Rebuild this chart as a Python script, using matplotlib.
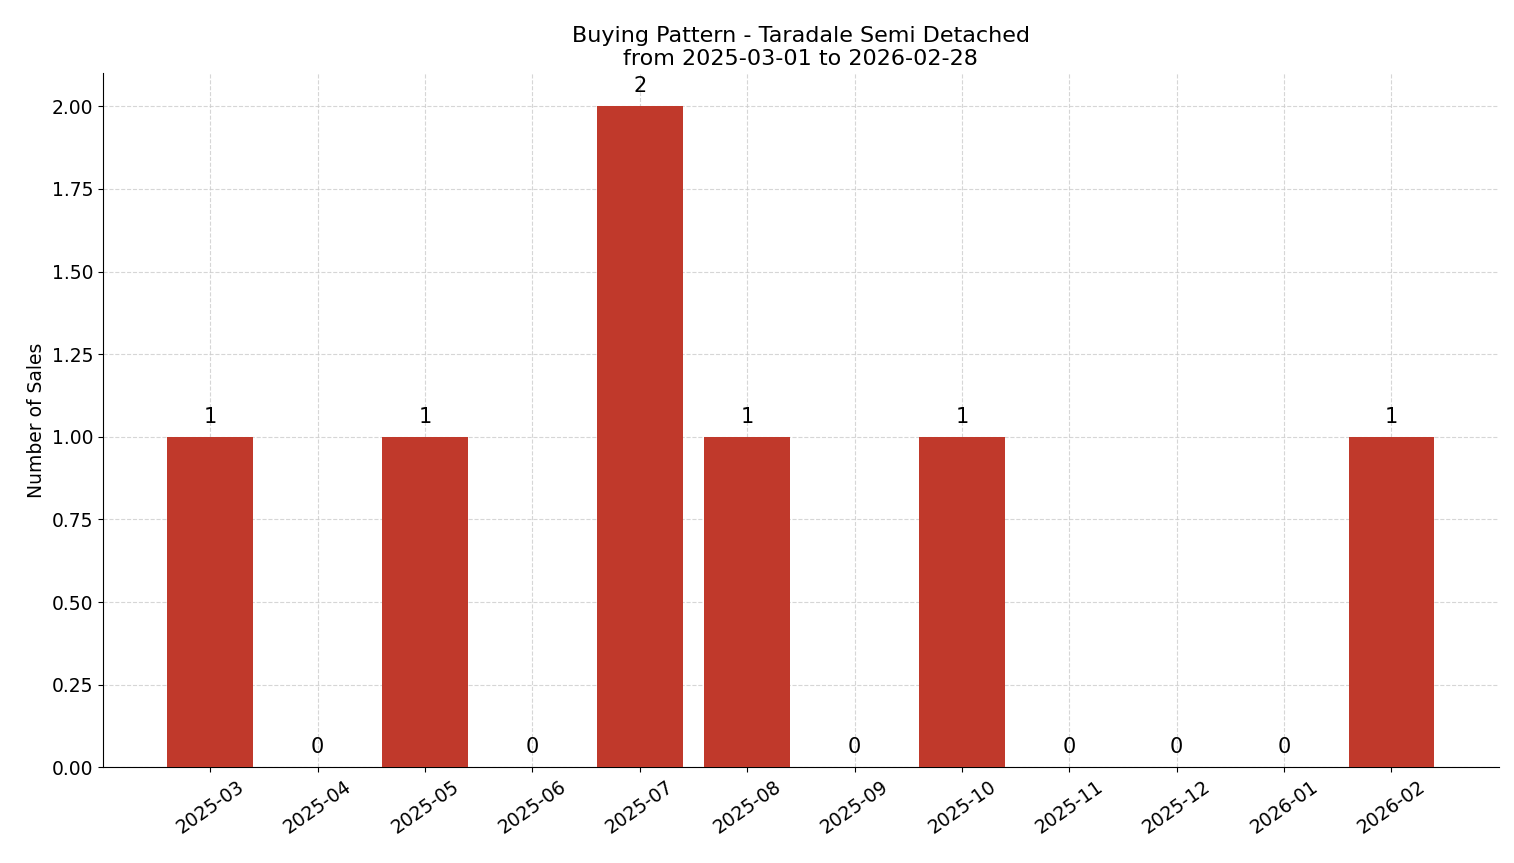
import matplotlib
matplotlib.use("Agg")
import matplotlib.pyplot as plt

months = ["2025-03","2025-04","2025-05","2025-06","2025-07","2025-08","2025-09","2025-10","2025-11","2025-12","2026-01","2026-02"]
sales = [1,0,1,0,2,1,0,1,0,0,0,1]

fig, ax = plt.subplots(figsize=(15.14, 8.63), dpi=100)
x = range(len(months))
ax.bar(x, sales, color="#c0392b", width=0.8, zorder=3)
for xi, v in zip(x, sales):
    ax.text(xi, v + 0.03, str(v), ha="center", va="bottom", fontsize=15)
ax.set_xticks(list(x))
ax.set_xticklabels(months, rotation=35, fontsize=13.5)
ax.tick_params(axis="y", labelsize=13.5)
ax.set_ylim(0, 2.1)
ax.set_xlim(-1, len(months))
yt = [0,0.25,0.5,0.75,1,1.25,1.5,1.75,2]
ax.set_yticks(yt)
ax.set_yticklabels([f"{t:.2f}" for t in yt])
ax.set_ylabel("Number of Sales", fontsize=13.5)
ax.set_title("Buying Pattern - Taradale Semi Detached\nfrom 2025-03-01 to 2026-02-28", fontsize=16)
ax.grid(True, linestyle="--", color="#cccccc", alpha=0.8, zorder=0)
ax.spines["top"].set_visible(False)
ax.spines["right"].set_visible(False)
fig.subplots_adjust(left=0.068, right=0.99, top=0.915, bottom=0.111)
fig.savefig("out.png")
